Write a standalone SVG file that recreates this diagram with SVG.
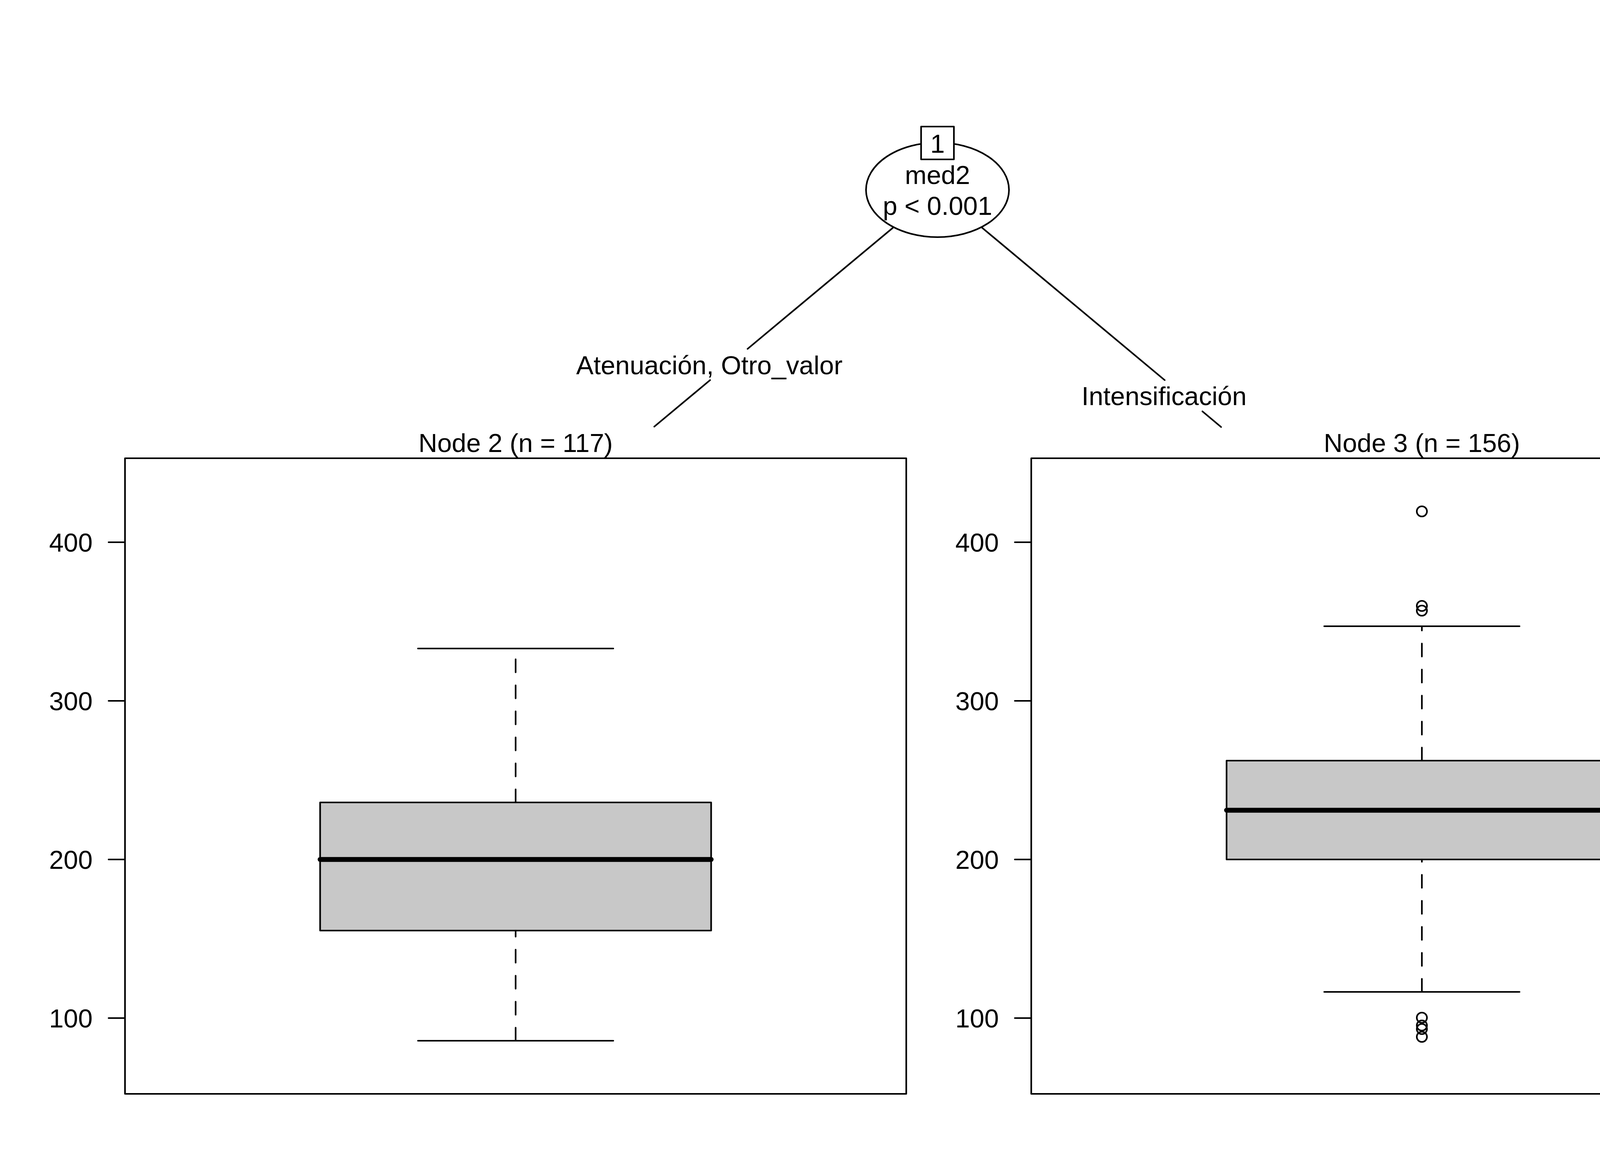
<svg xmlns="http://www.w3.org/2000/svg" width="4800" height="3000" viewBox="0 0 4800 3000">
<style>
.ln{stroke:#000;stroke-width:4.2;fill:none;stroke-linecap:round;stroke-linejoin:round}
.wf{fill:#fff}
.bx{fill:#C8C8C8}
.dash{stroke-dasharray:33.3 33.3}
.med{stroke-width:12.5}
.t{font-family:"Liberation Sans",Arial,Helvetica,sans-serif;font-size:66.7px;fill:#000}
.m{text-anchor:middle}
.e{text-anchor:end}
</style>
<rect width="4800" height="3000" fill="#fff"/>
<g id="connectors">
<line class="ln" x1="2287" y1="582" x2="1913.8" y2="893"/>
<line class="ln" x1="1817.8" y1="973" x2="1675" y2="1092"/>
<text class="t m" x="1816" y="958">Atenuación, Otro_valor</text>
<line class="ln" x1="2513" y1="582" x2="2981.6" y2="973"/>
<line class="ln" x1="3078.2" y1="1053" x2="3126" y2="1093"/>
<text class="t m" x="2980" y="1037">Intensificación</text>
</g>
<g id="node1">
<ellipse class="ln wf" cx="2400" cy="486" rx="183" ry="121"/>
<rect class="ln wf" x="2358" y="324" width="84" height="84"/>
<text class="t m" x="2400" y="391">1</text>
<text class="t m" x="2400" y="471">med2</text>
<text class="t m" x="2400" y="550">p &lt; 0.001</text>
</g>
<g id="node2">
<text class="t m" x="1320" y="1157">Node 2 (n = 117)</text>
<rect class="ln" x="320" y="1173" width="2000" height="1627"/>
<line class="ln" x1="278" y1="1388" x2="320" y2="1388"/>
<line class="ln" x1="278" y1="1794" x2="320" y2="1794"/>
<line class="ln" x1="278" y1="2200" x2="320" y2="2200"/>
<line class="ln" x1="278" y1="2606" x2="320" y2="2606"/>
<text class="t e" x="237" y="1412">400</text>
<text class="t e" x="237" y="1818">300</text>
<text class="t e" x="237" y="2224">200</text>
<text class="t e" x="237" y="2630">100</text>
<rect class="ln bx" x="819.5" y="2054" width="1001" height="328"/>
<line class="ln dash" x1="1320" y1="2054" x2="1320" y2="1660"/>
<line class="ln dash" x1="1320" y1="2664" x2="1320" y2="2382"/>
<line class="ln" x1="1070" y1="1660" x2="1570" y2="1660"/>
<line class="ln" x1="1070" y1="2664" x2="1570" y2="2664"/>
<line class="ln med" x1="819.5" y1="2200" x2="1820.5" y2="2200"/>
</g>
<g id="node3">
<text class="t m" x="3640" y="1157">Node 3 (n = 156)</text>
<rect class="ln" x="2640" y="1173" width="2000" height="1627"/>
<line class="ln" x1="2598" y1="1388" x2="2640" y2="1388"/>
<line class="ln" x1="2598" y1="1794" x2="2640" y2="1794"/>
<line class="ln" x1="2598" y1="2200" x2="2640" y2="2200"/>
<line class="ln" x1="2598" y1="2606" x2="2640" y2="2606"/>
<text class="t e" x="2557" y="1412">400</text>
<text class="t e" x="2557" y="1818">300</text>
<text class="t e" x="2557" y="2224">200</text>
<text class="t e" x="2557" y="2630">100</text>
<rect class="ln bx" x="3140" y="1947" width="1000" height="253"/>
<line class="ln dash" x1="3640" y1="1947" x2="3640" y2="1603"/>
<line class="ln dash" x1="3640" y1="2539" x2="3640" y2="2200"/>
<line class="ln" x1="3390" y1="1603" x2="3890" y2="1603"/>
<line class="ln" x1="3390" y1="2539" x2="3890" y2="2539"/>
<line class="ln med" x1="3140" y1="2074" x2="4140" y2="2074"/>
<circle class="ln" cx="3640" cy="1309" r="13"/>
<circle class="ln" cx="3640" cy="1551" r="13"/>
<circle class="ln" cx="3640" cy="1563" r="13"/>
<circle class="ln" cx="3640" cy="2605" r="13"/>
<circle class="ln" cx="3640" cy="2625" r="13"/>
<circle class="ln" cx="3640" cy="2634" r="13"/>
<circle class="ln" cx="3640" cy="2654" r="13"/>
</g>
</svg>
